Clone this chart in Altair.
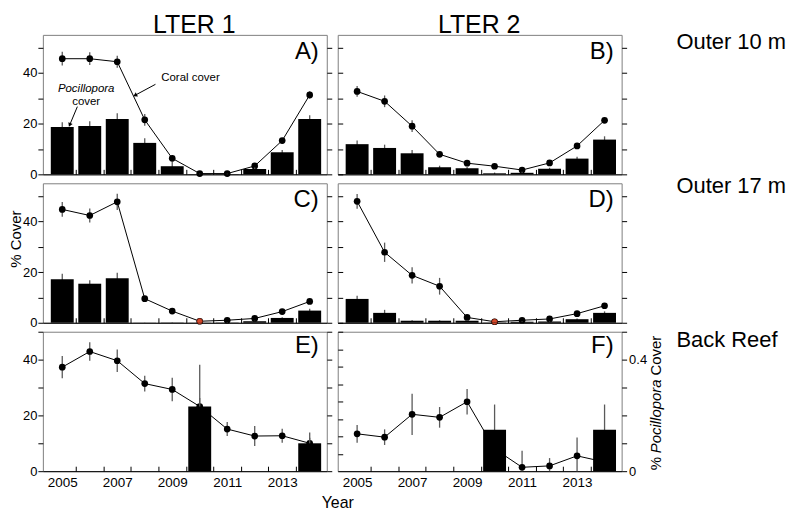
import altair as alt
import pandas as pd

# ---------------- data ----------------
years = [2005, 2006, 2007, 2008, 2009, 2010, 2011, 2012, 2013, 2014]
half_years = [2005.5, 2006.5, 2007.5, 2008.5, 2009.5, 2010.5, 2011.5, 2012.5, 2013.5]
year_labels = [2005, 2007, 2009, 2011, 2013]
cover_ticks = [0, 10, 20, 30, 40, 50]
cover_ticks_f = [6.25, 12.5, 18.75, 25, 31.25, 37.5, 43.75, 50]
poc_ticks = [0, 0.1, 0.2, 0.3, 0.4, 0.5]
highlight_year = [2010]

# A) LTER 1, Outer 10 m
a_coral = [45.6, 45.6, 44.4, 21.5, 6.3, 0.3, 0.3, 3.3, 13.3, 31.3]
a_coral_se = [2.7, 2.5, 2.4, 2.3, 1.2, 0.3, 0.2, 0.8, 1.0, 1.5]
a_poc = [18.7, 19.1, 21.8, 12.4, 3.2, 0.1, 0.1, 2.1, 8.7, 21.8]
a_poc_se = [1.8, 1.8, 2.3, 1.8, 1.7, 0.1, 0.1, 0.6, 0.9, 1.5]
# B) LTER 2, Outer 10 m
b_coral = [32.7, 28.8, 19.0, 7.9, 4.4, 3.2, 1.7, 4.5, 11.2, 21.3]
b_coral_se = [2.1, 2.3, 2.3, 1.0, 0.8, 0.6, 0.5, 0.6, 0.8, 1.0]
b_poc = [11.9, 10.4, 8.3, 2.8, 2.4, 0.4, 0.6, 2.2, 6.2, 13.7]
b_poc_se = [1.4, 1.3, 1.3, 0.6, 0.6, 0.3, 0.4, 0.4, 0.7, 1.3]
# C) LTER 1, Outer 17 m
c_coral = [44.7, 42.3, 47.7, 9.5, 4.6, 0.6, 1.0, 1.7, 4.4, 8.4]
c_coral_se = [2.9, 2.8, 3.2, 1.0, 0.8, 0.3, 0.3, 0.4, 0.6, 0.8]
c_poc = [17.2, 15.4, 17.6, 0.05, 0.1, 0.05, 0.1, 0.6, 1.9, 4.8]
c_poc_se = [2.1, 1.4, 2.1, 0.05, 0.1, 0.05, 0.1, 0.2, 0.3, 0.7]
# D) LTER 2, Outer 17 m
d_coral = [47.9, 27.8, 18.7, 14.4, 2.1, 0.4, 1.0, 1.5, 3.6, 6.7]
d_coral_se = [2.9, 3.8, 3.2, 3.3, 0.6, 0.2, 0.3, 0.3, 0.5, 0.7]
d_poc = [9.4, 3.9, 0.8, 0.8, 0.8, 0.1, 0.4, 0.5, 1.4, 3.9]
d_poc_se = [1.3, 1.2, 0.2, 0.2, 0.2, 0.1, 0.2, 0.2, 0.3, 0.6]
# E) LTER 1, Back Reef (Pocillopora on right-hand scale)
e_coral = [37.3, 42.9, 39.6, 31.4, 29.3, 23.2, 15.1, 12.6, 12.7, 10.0]
e_coral_se = [4.0, 3.3, 4.0, 2.8, 4.2, 3.0, 2.5, 3.6, 2.5, 2.0]
e_poc = [0, 0, 0, 0, 0, 0.232, 0, 0, 0, 0.100]
e_poc_se = [0, 0, 0, 0, 0, 0.150, 0, 0, 0, 0.039]
# F) LTER 2, Back Reef
f_coral = [13.4, 12.2, 20.4, 19.3, 24.9, 8.0, 1.4, 1.9, 5.5, 3.3]
f_coral_se = [3.2, 2.8, 7.4, 3.7, 4.6, 3.0, 5.9, 2.8, 6.6, 3.0]
f_poc = [0, 0, 0, 0, 0, 0.149, 0, 0, 0, 0.149]
f_poc_se = [0, 0, 0, 0, 0, 0.090, 0, 0, 0, 0.090]

panel_letters = ["A)", "B)", "C)", "D)", "E)", "F)"]
column_titles = ["LTER 1", "LTER 2"]
row_titles = ["Outer 10 m", "Outer 17 m", "Back Reef"]

# annotations in panel A (data coordinates)
ann_coral_text = ["Coral cover"]
ann_coral_x = [2008.6]
ann_coral_y = [36.8]
ann_poc_text = ["Pocillopora", "cover"]
ann_poc_x = [2005.87, 2005.87]
ann_poc_y = [32.6, 27.35]
arrow_id = [1, 1, 2, 2]
arrow_x = [2008.39, 2007.67, 2005.55, 2005.28]
arrow_y = [35.5, 31.3, 26.7, 19.7]
arrow_tip_x = [2007.67, 2005.28]
arrow_tip_y = [31.3, 19.7]
arrow_tip_angle = [242, 203]

# ---------------- chart ----------------
FONT = "Liberation Sans"
W, H = 285, 140
XDOM = [2004.476, 2014.44]
ERR = "#5a5a5a"

series = [
    (a_coral, a_coral_se, a_poc, a_poc_se),
    (b_coral, b_coral_se, b_poc, b_poc_se),
    (c_coral, c_coral_se, c_poc, c_poc_se),
    (d_coral, d_coral_se, d_poc, d_poc_se),
    (e_coral, e_coral_se, e_poc, e_poc_se),
    (f_coral, f_coral_se, f_poc, f_poc_se),
]


def txt(s, **kw):
    return alt.Chart(pd.DataFrame({"t": [s]})).mark_text(font=FONT, **kw)


def make_panel(i):
    coral, coral_se, poc, poc_se = series[i]
    row, col = divmod(i, 2)
    bottom = row == 2
    ydom = [0, 50] if bottom else [0, 55]
    bdom = [0, 0.5] if bottom else ydom
    df = pd.DataFrame({"year": years, "coral": coral, "coral_se": coral_se,
                       "poc": poc, "poc_se": poc_se})
    df["c_lo"] = (df["coral"] - df["coral_se"]).clip(lower=0)
    df["c_hi"] = df["coral"] + df["coral_se"]
    df["p_lo"] = (df["poc"] - df["poc_se"]).clip(lower=0)
    df["p_hi"] = df["poc"] + df["poc_se"]
    base = alt.Chart(df)

    xs = alt.Scale(domain=XDOM, nice=False, zero=False)
    ys = alt.Scale(domain=ydom, nice=False, zero=False)
    bs = alt.Scale(domain=bdom, nice=False, zero=False)

    if bottom:
        xlab = alt.Axis(values=year_labels, labels=True, ticks=False, domain=True,
                        domainColor="black", grid=False, title=None, format="d",
                        labelPadding=4, labelFontSize=13.5)
    else:
        xlab = alt.Axis(labels=False, ticks=False, domain=True, domainColor="black",
                        grid=False, title=None)
    xtick = alt.Axis(orient="top", offset=-H, values=half_years, labels=False,
                     tickSize=5, domain=False, grid=False, title=None)

    if col == 0:
        yleft = alt.Axis(orient="left", values=cover_ticks, tickSize=5, labelPadding=1,
                         labelExpr="datum.value == 0 || datum.value == 20 || datum.value == 40 ? datum.label : ''",
                         domain=False, grid=False, title=None)
    else:
        yleft = alt.Axis(orient="right", offset=-W,
                         values=cover_ticks_f if i == 5 else cover_ticks,
                         labels=False, tickSize=5, domain=False, grid=False, title=None)

    if i == 5:
        yright = alt.Axis(orient="right", values=poc_ticks, tickSize=5, labelPadding=2,
                          labelExpr="datum.value == 0 ? '0' : (abs(datum.value - 0.4) < 0.001 ? '0.4' : '')",
                          domain=False, grid=False, title=None)
    else:
        yright = alt.Axis(orient="right", values=poc_ticks if bottom else cover_ticks,
                          labels=False, tickSize=5, domain=False, grid=False, title=None)

    X0 = alt.X("year:Q", scale=xs, axis=None)
    layers = [
        base.mark_rule(color=ERR, strokeWidth=1.3).encode(
            x=X0, y=alt.Y("c_lo:Q", scale=ys, axis=None), y2="c_hi:Q"),
        base.mark_line(color="black", strokeWidth=1).encode(
            x=alt.X("year:Q", scale=xs, axis=xlab),
            y=alt.Y("coral:Q", scale=ys, axis=yleft)),
        base.mark_point(filled=True, color="black", size=45, opacity=1).encode(
            x=alt.X("year:Q", scale=xs, axis=xtick),
            y=alt.Y("coral:Q", scale=ys, axis=None)),
    ]
    if i in (2, 3):
        layers.append(
            base.transform_filter(alt.FieldOneOfPredicate(field="year", oneOf=highlight_year))
            .mark_point(filled=True, color="#d6482a", size=30, opacity=1,
                        stroke="#7a2010", strokeWidth=0.6)
            .encode(x=X0, y=alt.Y("coral:Q", scale=ys, axis=None)))
    pb = base.transform_filter("datum.poc > 0")
    layers += [
        pb.mark_rule(color=ERR, strokeWidth=1.3).encode(
            x=X0, y=alt.Y("p_lo:Q", scale=bs, axis=None), y2="p_hi:Q"),
        pb.mark_bar(color="black", size=23).encode(
            x=X0, y=alt.Y("poc:Q", scale=bs, axis=yright)),
    ]

    # panel letter
    layers.append(txt(panel_letters[i], align="right", baseline="alphabetic", fontSize=24)
                  .encode(x=alt.value(W - 8), y=alt.value(21 if bottom else 24), text="t:N"))
    # column titles
    if row == 0:
        layers.append(txt(column_titles[col], align="center", baseline="alphabetic", fontSize=25)
                      .encode(x=alt.value(152 if col == 0 else 142), y=alt.value(-2), text="t:N"))
    # row titles
    if col == 1:
        layers.append(txt(row_titles[row], align="left", baseline="alphabetic", fontSize=22)
                      .encode(x=alt.value(340), y=alt.value([14, 10, 15][row]), text="t:N"))
    # y-axis title
    if i == 2:
        layers.append(txt("% Cover", align="center", baseline="alphabetic", fontSize=15, angle=270)
                      .encode(x=alt.value(-22), y=alt.value(56), text="t:N"))
    if i == 5:
        layers.append(txt("Year", align="center", baseline="alphabetic", fontSize=16)
                      .encode(x=alt.value(0), y=alt.value(H + 37), text="t:N"))
        layers.append(txt("%", align="left", baseline="alphabetic", fontSize=15, angle=270)
                      .encode(x=alt.value(325), y=alt.value(139), text="t:N"))
        layers.append(txt("Pocillopora", align="left", baseline="alphabetic", fontSize=15,
                          angle=270, fontStyle="italic")
                      .encode(x=alt.value(325), y=alt.value(122), text="t:N"))
        layers.append(txt("Cover", align="left", baseline="alphabetic", fontSize=15, angle=270)
                      .encode(x=alt.value(325), y=alt.value(44), text="t:N"))
    if i == 0:
        ys_a = alt.Scale(domain=ydom, nice=False, zero=False)
        adf = pd.DataFrame({"t": ann_coral_text, "x": ann_coral_x, "y": ann_coral_y})
        layers.append(alt.Chart(adf).mark_text(font=FONT, fontSize=11.5, align="left",
                                               baseline="alphabetic")
                      .encode(x=alt.X("x:Q", scale=xs, axis=None),
                              y=alt.Y("y:Q", scale=ys_a, axis=None), text="t:N"))
        pdf = pd.DataFrame({"t": ann_poc_text, "x": ann_poc_x, "y": ann_poc_y,
                            "it": ["italic", "normal"]})
        layers.append(alt.Chart(pdf).transform_filter("datum.it == 'italic'")
                      .mark_text(font=FONT, fontSize=11.5, align="center", baseline="alphabetic",
                                 fontStyle="italic")
                      .encode(x=alt.X("x:Q", scale=xs, axis=None),
                              y=alt.Y("y:Q", scale=ys_a, axis=None), text="t:N"))
        layers.append(alt.Chart(pdf).transform_filter("datum.it == 'normal'")
                      .mark_text(font=FONT, fontSize=11.5, align="center", baseline="alphabetic")
                      .encode(x=alt.X("x:Q", scale=xs, axis=None),
                              y=alt.Y("y:Q", scale=ys_a, axis=None), text="t:N"))
        ardf = pd.DataFrame({"id": arrow_id, "x": arrow_x, "y": arrow_y,
                             "o": [0, 1, 0, 1]})
        layers.append(alt.Chart(ardf).mark_line(color="black", strokeWidth=1)
                      .encode(x=alt.X("x:Q", scale=xs, axis=None),
                              y=alt.Y("y:Q", scale=ys_a, axis=None),
                              detail="id:N", order="o:Q"))
        tdf = pd.DataFrame({"x": arrow_tip_x, "y": arrow_tip_y, "a": arrow_tip_angle})
        layers.append(alt.Chart(tdf).mark_point(shape="triangle", filled=True, color="black",
                                                size=22, opacity=1)
                      .encode(x=alt.X("x:Q", scale=xs, axis=None),
                              y=alt.Y("y:Q", scale=ys_a, axis=None),
                              angle=alt.Angle("a:Q", scale=None)))

    return (alt.layer(*layers)
            .resolve_scale(y="independent")
            .resolve_axis(x="independent", y="independent")
            .properties(width=W, height=H))


panels = [make_panel(i) for i in range(6)]

chart = (alt.concat(*panels, columns=2, spacing={"row": 9, "column": 11}, bounds="flush")
         .properties(padding={"top": 3, "left": 0, "right": 0, "bottom": 0}, background="white")
         .configure_view(stroke="#7f7f7f", strokeWidth=1)
         .configure_axis(labelFont=FONT, labelFontSize=13, labelColor="black",
                         tickColor="black", tickWidth=1, domainColor="black"))

chart.save("out.html", embed_options={"renderer": "svg", "actions": False})
